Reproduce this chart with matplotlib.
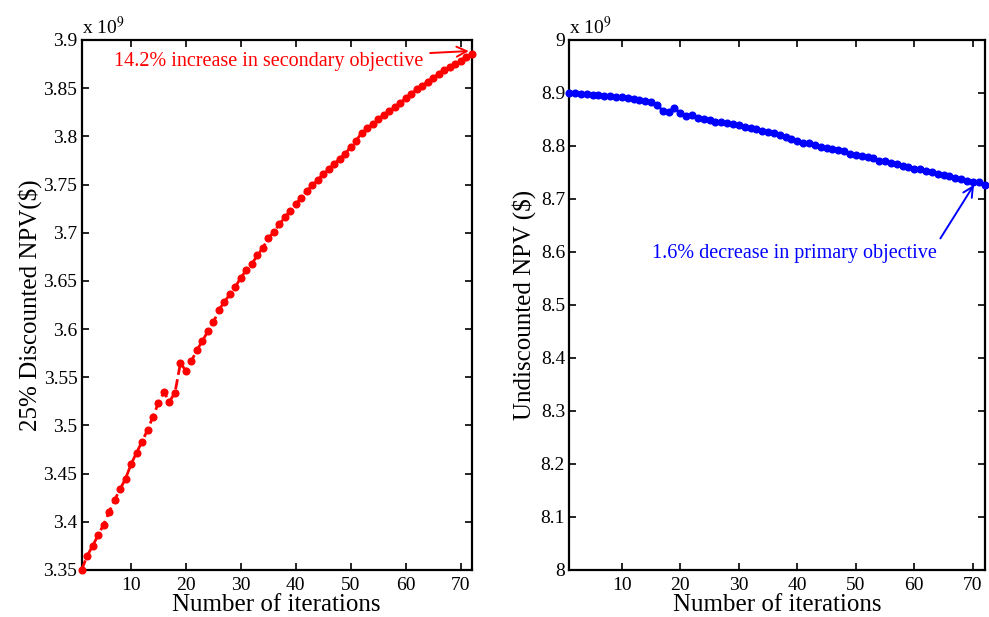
import numpy as np
import matplotlib.pyplot as plt

plt.rcParams['font.family'] = ['Liberation Serif', 'DejaVu Serif']
plt.rcParams['mathtext.fontset'] = 'stix'

# iterations and objective values (x 1e9)
iterations = np.arange(1, 73)

discounted_npv = [
    3.350, 3.3645, 3.375, 3.386, 3.397, 3.410, 3.4226, 3.4337, 3.4448, 3.4597,
    3.4717, 3.4831, 3.4953, 3.5091, 3.5236, 3.5344, 3.5247, 3.5340, 3.5648, 3.5565,
    3.5669, 3.5783, 3.5876, 3.598, 3.607, 3.6198, 3.6284, 3.636, 3.644, 3.6533,
    3.6613, 3.6676, 3.6766, 3.6842, 3.6942, 3.7008, 3.7088, 3.716, 3.7226, 3.7295,
    3.7364, 3.7433, 3.7492, 3.7547, 3.761, 3.7658, 3.7713, 3.7768, 3.7817, 3.7893,
    3.7955, 3.8038, 3.8084, 3.8128, 3.818, 3.8222, 3.826, 3.8302, 3.8346, 3.8395,
    3.844, 3.8489, 3.8526, 3.8567, 3.8609, 3.8647, 3.8689, 3.872, 3.8751, 3.8786,
    3.8827, 3.8855]

undiscounted_npv = [
    8.9006, 8.8994, 8.898, 8.8975, 8.8968, 8.8956, 8.895, 8.8943, 8.893, 8.8918,
    8.8906, 8.8893, 8.8868, 8.8843, 8.8824, 8.8774, 8.8667, 8.8648, 8.8717, 8.8616,
    8.8572, 8.8579, 8.8534, 8.8503, 8.8491, 8.8459, 8.8447, 8.844, 8.8415, 8.8396,
    8.8365, 8.8334, 8.8315, 8.8289, 8.8264, 8.824, 8.8202, 8.8176, 8.8138, 8.8094,
    8.8063, 8.8051, 8.8019, 8.7987, 8.7957, 8.7938, 8.7919, 8.790, 8.7843, 8.783,
    8.7811, 8.7792, 8.7767, 8.7723, 8.7717, 8.7685, 8.7654, 8.7623, 8.7598, 8.7572,
    8.756, 8.7528, 8.7503, 8.7477, 8.7458, 8.7434, 8.7402, 8.7372, 8.7345, 8.7327,
    8.7315, 8.727]

left_yticks = [3.35, 3.4, 3.45, 3.5, 3.55, 3.6, 3.65, 3.7, 3.75, 3.8, 3.85, 3.9]
left_yticklabels = ['3.35', '3.4', '3.45', '3.5', '3.55', '3.6', '3.65', '3.7',
                    '3.75', '3.8', '3.85', '3.9']
right_yticks = [8.0, 8.1, 8.2, 8.3, 8.4, 8.5, 8.6, 8.7, 8.8, 8.9, 9.0]
right_yticklabels = ['8', '8.1', '8.2', '8.3', '8.4', '8.5', '8.6', '8.7', '8.8', '8.9', '9']
xticks = [10, 20, 30, 40, 50, 60, 70]

fig = plt.figure(figsize=(9.89, 6.17), dpi=100)
ax1 = fig.add_axes([0.0825, 0.0762, 0.3943, 0.859])
ax2 = fig.add_axes([0.5755, 0.0762, 0.420, 0.859])


def style(ax):
    for s in ax.spines.values():
        s.set_linewidth(1.6)
    ax.tick_params(direction='in', top=True, right=True, length=5, width=1.2,
                   labelsize=14, pad=3)
    ax.tick_params(axis='x', pad=5)
    ax.set_xticks(xticks)
    ax.set_xlim(1, 72)
    ax.set_xlabel('Number of iterations', fontsize=18, labelpad=0)


ax1.plot(iterations, discounted_npv, '--', color='red', lw=2,
         marker='o', ms=4.8, clip_on=False, zorder=3)
style(ax1)
ax1.set_ylim(3.35, 3.9)
ax1.set_yticks(left_yticks)
ax1.set_yticklabels(left_yticklabels)
ax1.set_ylabel('25% Discounted NPV($)', fontsize=18, labelpad=1)
ax1.text(0.0, 1.004, r'x 10$^{9}$', transform=ax1.transAxes, fontsize=14,
         ha='left', va='bottom')
ax1.annotate('14.2% increase in secondary objective',
             xy=(iterations[-1] - 0.5, discounted_npv[-1] + 0.003),
             xytext=(63.2, 3.878), fontsize=14.5, color='red',
             ha='right', va='center',
             arrowprops=dict(arrowstyle='->', color='red', lw=1.4,
                             mutation_scale=18, shrinkA=3, shrinkB=0))

ax2.plot(iterations, undiscounted_npv, '-', color='blue', lw=2,
         marker='o', ms=4.8, clip_on=False, zorder=3)
style(ax2)
ax2.set_ylim(8.0, 9.0)
ax2.set_yticks(right_yticks)
ax2.set_yticklabels(right_yticklabels)
ax2.set_ylabel('Undiscounted NPV ($)', fontsize=18, labelpad=3)
ax2.text(0.0, 1.004, r'x 10$^{9}$', transform=ax2.transAxes, fontsize=14,
         ha='left', va='bottom')
ax2.annotate('1.6% decrease in primary objective',
             xy=(iterations[-3] + 0.2, undiscounted_npv[-3] - 0.006),
             xytext=(63.9, 8.598), fontsize=14.5, color='blue',
             ha='right', va='center',
             arrowprops=dict(arrowstyle='->', color='blue', lw=1.4,
                             mutation_scale=18, shrinkA=2, shrinkB=0,
                             relpos=(1.0, 1.0)))

fig.savefig('out.png', dpi=100)
